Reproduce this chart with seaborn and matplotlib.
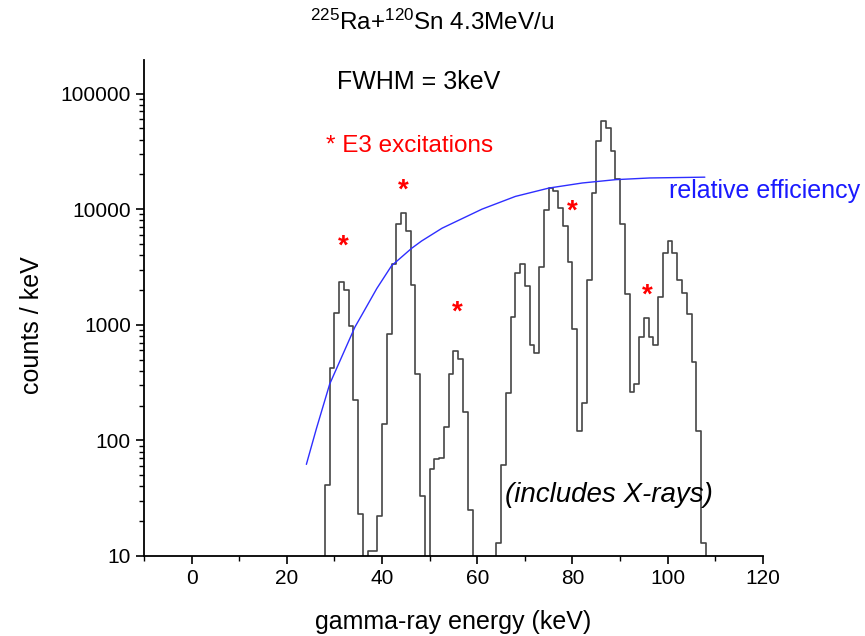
import numpy as np
import pandas as pd
import matplotlib
matplotlib.use("Agg")
import matplotlib.pyplot as plt
import seaborn as sns
from matplotlib.ticker import FixedLocator, FixedFormatter

# ---------------- data ----------------
bin_start = list(range(27, 109))        # 1 keV bins, left edges (keV)
counts = [0, 41, 425, 1270, 2320, 1990, 975, 223, 23, 0,          # 27-36
          11, 11, 22, 138, 835, 3340, 7450, 9350, 6470, 2200,     # 37-46
          375, 33, 0, 56, 69, 71, 131, 375, 598, 510,              # 47-56
          177, 25, 0, 0, 0, 0, 0, 13, 61, 258,                     # 57-66
          1160, 2820, 3330, 2150, 670, 575, 3150, 9900, 15200, 14300,   # 67-76
          10200, 7080, 3510, 910, 120, 209, 2430, 13800, 39000, 57600,  # 77-86
          50600, 31700, 18200, 7400, 1860, 262, 305, 782, 1150, 782,    # 87-96
          670, 1740, 4140, 5350, 4140, 2430, 1880, 1250, 474, 120,      # 97-106
          13, 0]                                                      # 107-108

eff_energy = [24.1, 26.2, 29.0, 34.3, 35.7, 38.9, 42.0, 46.2, 48.3, 52.6,
              61.0, 68.0, 75.1, 82.1, 89.1, 96.2, 107.8]
eff_value = [62, 126, 307, 955, 1205, 2060, 3240, 4580, 5300, 6840,
             10000, 12880, 15230, 16840, 17990, 18600, 18900]

star_energy = [31.9, 44.5, 55.7, 80.0, 95.8]
star_counts = [4760, 14400, 1270, 9600, 1790]

x_ticks = [0, 20, 40, 60, 80, 100, 120]
y_ticks = [10, 100, 1000, 10000, 100000]
y_tick_labels = ["10", "100", "1000", "10000", "100000"]

title = r"$^{225}$Ra+$^{120}$Sn 4.3MeV/u"
# -----------------------------------------------------------------

sns.set_style("ticks")
plt.rcParams["font.family"] = ["Liberation Sans", "DejaVu Sans"]
plt.rcParams["text.color"] = "black"
plt.rcParams["axes.labelcolor"] = "black"
plt.rcParams["mathtext.fontset"] = "custom"
plt.rcParams["mathtext.rm"] = "Liberation Sans"
plt.rcParams["mathtext.it"] = "Liberation Sans:italic"

fig = plt.figure(figsize=(8.65, 6.36), dpi=100)
ax = fig.add_axes([0.1665, 0.1258, 0.882 - 0.1665, 0.9057 - 0.1258])
ax.set_yscale("log")

# histogram as a step line (steps-post over the bin edges)
edges = bin_start + [bin_start[-1] + 1]
heights = counts + [counts[-1]]
df = pd.DataFrame({"energy": edges, "counts": heights})
sns.lineplot(data=df, x="energy", y="counts", drawstyle="steps-post",
             color="#454545", linewidth=1.2, estimator=None, sort=False, ax=ax)

sns.lineplot(x=eff_energy, y=eff_value, color="#2e2eff", linewidth=1.0,
             sort=False, estimator=None, ax=ax)

for e, c in zip(star_energy, star_counts):
    ax.text(e, c, "*", color="red", fontsize=20, fontweight="bold",
            ha="center", va="center")

ax.text(30.6, 1.25e5, "FWHM = 3keV", fontsize=18, ha="left", va="center")
ax.text(28.3, 3.53e4, "* E3 excitations", fontsize=17.5, color="red",
        ha="left", va="center")
ax.text(100.2, 1.435e4, "relative efficiency", fontsize=18, color="#1a1aff",
        ha="left", va="center", clip_on=False)
ax.text(65.8, 33.9, "(includes X-rays)", fontsize=20, style="italic",
        ha="left", va="center")

ax.set_xlim(-10, 120)
ax.set_ylim(10, 1.95e5)
ax.xaxis.set_major_locator(FixedLocator(x_ticks))
ax.xaxis.set_minor_locator(FixedLocator([-10, 10, 30, 50, 70, 90, 110]))
ax.yaxis.set_major_locator(FixedLocator(y_ticks))
ax.yaxis.set_major_formatter(FixedFormatter(y_tick_labels))
ax.yaxis.set_minor_locator(matplotlib.ticker.LogLocator(base=10, subs=np.arange(2, 10)))
ax.yaxis.set_minor_formatter(matplotlib.ticker.NullFormatter())
ax.tick_params(which="major", direction="out", length=6, width=1.2,
               labelsize=15, color="black", labelcolor="black")
ax.tick_params(which="minor", direction="out", length=3.5, width=1.0, color="black")
sns.despine(ax=ax)
for s in ("left", "bottom"):
    ax.spines[s].set_linewidth(1.3)
    ax.spines[s].set_color("black")

ax.set_xlabel("gamma-ray energy (keV)", fontsize=18)
ax.set_ylabel("counts / keV", fontsize=18)
# label centres measured in figure pixels: x-label (453, 622), y-label (32, 325)
ax.xaxis.set_label_coords(0.5, -(622 - 556) / 496, transform=ax.transAxes)
ax.yaxis.set_label_coords(-(144 - 32) / 619, (556 - 325) / 496, transform=ax.transAxes)
ax.xaxis.label.set_va("center")
ax.yaxis.label.set_va("center")
fig.text(0.4994, 0.965, title, fontsize=17.5, ha="center", va="center")

fig.savefig("out.png", dpi=100, facecolor="white")
